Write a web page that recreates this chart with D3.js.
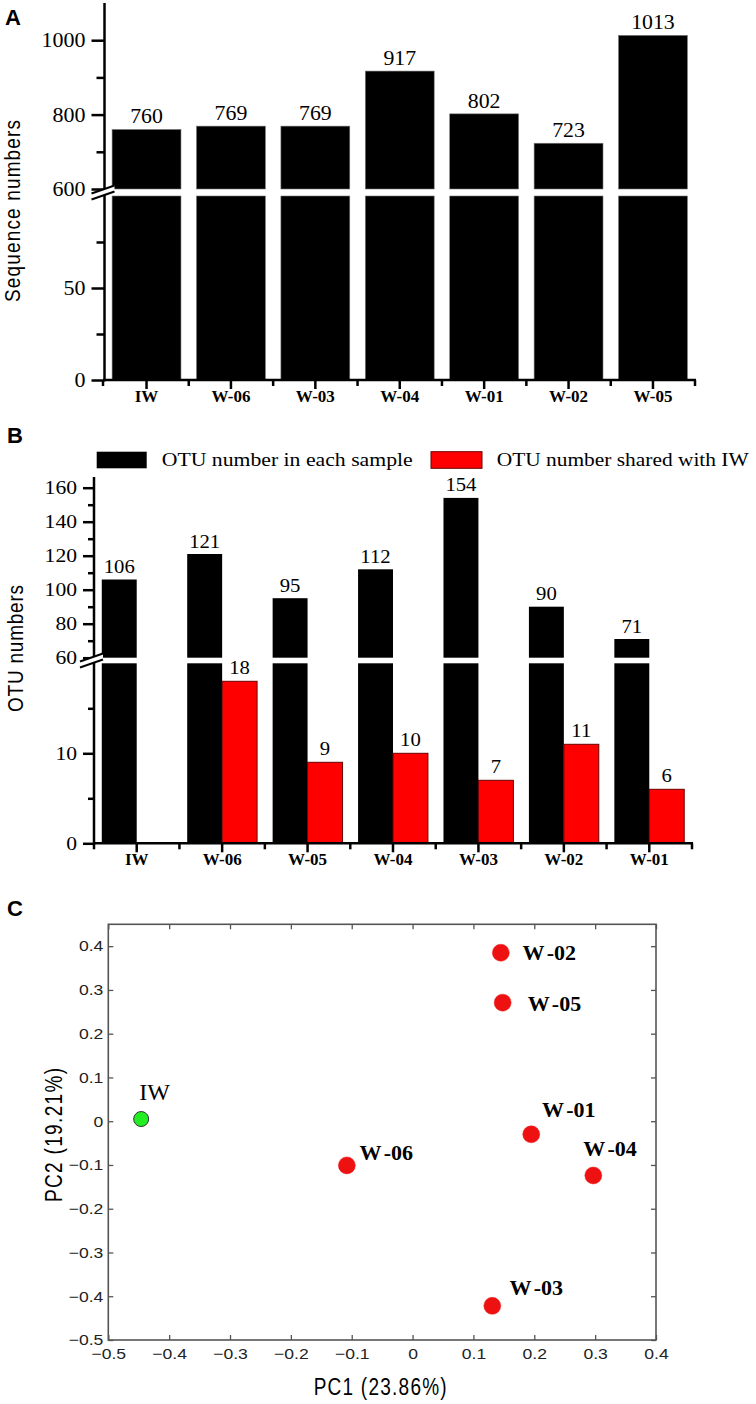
<!DOCTYPE html>
<html><head><meta charset="utf-8">
<script src="https://cdn.jsdelivr.net/npm/d3@7"></script>
<style>body{margin:0;background:#fff} svg{display:block}</style>
</head><body>
<script>
// ---------- Panel A data ----------
const samplesA = ['IW','W-06','W-03','W-04','W-01','W-02','W-05'];
const sequenceNumbers = [760,769,769,917,802,723,1013];
const ticksALower = [0,50];
const minorALower = [25,75];
const ticksAUpper = [600,800,1000];
const minorAUpper = [700,900];
const titleA = 'Sequence numbers';

// ---------- Panel B data ----------
const samplesB = ['IW','W-06','W-05','W-04','W-03','W-02','W-01'];
const otuEach = [106,121,95,112,154,90,71];
const otuShared = [null,18,9,10,7,11,6];
const legendB = ['OTU number in each sample','OTU number shared with IW'];
const ticksBLower = [0,10];
const minorBLower = [5,15];
const ticksBUpper = [60,80,100,120,140,160];
const minorBUpper = [70,90,110,130,150];
const titleB = 'OTU numbers';

// ---------- Panel C data ----------
const pcoaSamples = ['IW','W-06','W-02','W-05','W-01','W-04','W-03'];
const pc1 = [-0.446,-0.108,0.145,0.148,0.195,0.297,0.131];
const pc2 = [0.005,-0.101,0.385,0.271,-0.030,-0.124,-0.422];
const ticksCX = [-0.5,-0.4,-0.3,-0.2,-0.1,0,0.1,0.2,0.3,0.4];
const ticksCY = [-0.5,-0.4,-0.3,-0.2,-0.1,0,0.1,0.2,0.3,0.4];
const titleCX = 'PC1 (23.86%)';
const titleCY = 'PC2 (19.21%)';

// ---------- layout (label placement for panel C, dx/dy from point) ----------
const labelOffsetC = {'IW':[-2,-19],'W-06':[12.6,-5],'W-02':[21.7,7.7],'W-05':[25,8.4],'W-01':[10.7,-17.3],'W-04':[-10,-19],'W-03':[17.3,-10.7]};

const serif = '"Liberation Serif","Times New Roman",serif';
const sans = '"Liberation Sans",Arial,sans-serif';
const narrow = '"Liberation Sans Narrow","Liberation Sans",Arial,sans-serif';

function stretch(sel, k){
  sel.each(function(){
    const w = this.getComputedTextLength();
    if (w>0){ this.setAttribute('textLength', w*k); this.setAttribute('lengthAdjust','spacingAndGlyphs'); }
  });
}
function fitLen(sel, L, mode){
  sel.each(function(){
    const w = this.getComputedTextLength();
    this.setAttribute('textLength', L);
    this.setAttribute('lengthAdjust', mode || (w > L ? 'spacingAndGlyphs' : 'spacing'));
  });
}

const svg = d3.select('body').append('svg').attr('width',756).attr('height',1404);
svg.append('rect').attr('width',756).attr('height',1404).attr('fill','#fff');

// panel letters
[['A',5,25],['B',7,443],['C',7,916]].forEach(([t,x,y])=>{
  svg.append('text').attr('x',x).attr('y',y).text(t)
    .attr('font-family',sans).attr('font-weight','bold').attr('font-size',22).attr('fill','#000');
});

function breakMark(g, x, yc){
  g.append('path').attr('d',`M${x-13},${yc+1}L${x+10},${yc-7}L${x+10},${yc-1}L${x-13},${yc+7}Z`).attr('fill','#fff');
  g.append('line').attr('x1',x-13).attr('y1',yc+1).attr('x2',x+10).attr('y2',yc-7).attr('stroke','#000').attr('stroke-width',2);
  g.append('line').attr('x1',x-13).attr('y1',yc+7).attr('x2',x+10).attr('y2',yc-1).attr('stroke','#000').attr('stroke-width',2);
}

// rotated, vertically-enlarged sans title
function vTitle(g, txt, x, y, size, len, k){
  const t = g.append('text').attr('transform',`translate(${x},${y}) rotate(-90) scale(1,${k})`).attr('text-anchor','middle')
    .attr('font-family',narrow).attr('font-size',size).attr('fill','#000').text(txt);
  fitLen(t,len);
  return t;
}

// =================== PANEL A ===================
{
  const g = svg.append('g');
  const axX = 104.5, x0 = 103, x1 = 695, base = 380;
  const xA = d3.scaleBand().domain(samplesA).range([axX, x1]).paddingInner(0.184).paddingOuter(0.09);
  const yLo = d3.scaleLinear().domain([0,100]).range([base,196]);
  const yHi = d3.scaleLinear().domain([600,1100]).range([189,3]);
  const data = samplesA.map((s,i)=>({s, v:sequenceNumbers[i]}));

  g.selectAll('rect.lo').data(data).join('rect').attr('class','lo')
    .attr('x',d=>xA(d.s)).attr('width',xA.bandwidth())
    .attr('y',d=>yLo(Math.min(d.v,100))).attr('height',d=>yLo(0)-yLo(Math.min(d.v,100)))
    .attr('fill','#000').attr('stroke','#777').attr('stroke-width',0.6);
  g.selectAll('rect.hi').data(data.filter(d=>d.v>600)).join('rect').attr('class','hi')
    .attr('x',d=>xA(d.s)).attr('width',xA.bandwidth())
    .attr('y',d=>yHi(d.v)).attr('height',d=>yHi(600)-yHi(d.v))
    .attr('fill','#000').attr('stroke','#777').attr('stroke-width',0.6);
  const vl = g.selectAll('text.val').data(data).join('text').attr('class','val')
    .attr('x',d=>xA(d.s)+xA.bandwidth()/2).attr('y',d=>yHi(d.v)-6)
    .attr('text-anchor','middle').attr('font-family',serif).attr('font-size',20).attr('fill','#000')
    .text(d=>d.v);
  stretch(vl,1.09);

  // y axis
  const ax = g.append('g').attr('transform',`translate(${axX},0)`);
  ax.append('g').call(d3.axisLeft(yLo).tickValues(ticksALower).tickSize(13).tickPadding(6).tickFormat(d3.format('d')));
  ax.append('g').call(d3.axisLeft(yLo).tickValues(minorALower).tickSize(8).tickFormat(''));
  ax.append('g').call(d3.axisLeft(yHi).tickValues(ticksAUpper).tickSize(13).tickPadding(6).tickFormat(d3.format('d')));
  ax.append('g').call(d3.axisLeft(yHi).tickValues(minorAUpper).tickSize(8).tickFormat(''));
  ax.selectAll('.domain').remove();
  ax.selectAll('.tick line').attr('stroke','#000').attr('stroke-width',2.5);
  const tl = ax.selectAll('.tick text').attr('font-family',serif).attr('font-size',20).attr('fill','#000');
  stretch(tl,1.1);
  g.append('line').attr('x1',axX).attr('x2',axX).attr('y1',3).attr('y2',base+1.2).attr('stroke','#000').attr('stroke-width',2.5);
  breakMark(g, axX, 192.5);

  // x axis
  g.append('line').attr('x1',x0).attr('x2',x1+1).attr('y1',base).attr('y2',base).attr('stroke','#000').attr('stroke-width',2.5);
  const xb = g.append('g').attr('transform',`translate(0,${base})`)
    .call(d3.axisBottom(xA).tickSize(9).tickPadding(1));
  xb.select('.domain').remove();
  xb.selectAll('.tick line').attr('stroke','#000').attr('stroke-width',2.5);
  xb.selectAll('.tick text').attr('font-family',serif).attr('font-weight','bold').attr('font-size',17).attr('fill','#000');
  const gap = xA.step()*xA.paddingInner()/2;
  const bnd = [x0].concat(samplesA.slice(1).map(s=>xA(s)-gap)).concat([x1]);
  g.selectAll('line.bt').data(bnd).join('line').attr('class','bt')
    .attr('x1',d=>d).attr('x2',d=>d).attr('y1',base).attr('y2',base+6).attr('stroke','#000').attr('stroke-width',2.5);

  vTitle(g, titleA, 20, 211, 19, 182, 1.2);
}

// =================== PANEL B ===================
{
  const g = svg.append('g');
  const axX = 94, x1 = 692, base = 843.3;
  const xB = d3.scaleBand().domain(samplesB).range([axX, x1]).paddingInner(0.182).paddingOuter(0.091);
  const xSub = d3.scaleBand().domain(['each','shared']).range([0, xB.bandwidth()]);
  const yLo = d3.scaleLinear().domain([0,20]).range([base,663.3]);
  const yHi = d3.scaleLinear().domain([60,166]).range([657.7,477.5]);
  const data = samplesB.map((s,i)=>({s, v:otuEach[i], r:otuShared[i]}));

  g.selectAll('rect.lo').data(data).join('rect').attr('class','lo')
    .attr('x',d=>xB(d.s)+xSub('each')).attr('width',xSub.bandwidth())
    .attr('y',d=>yLo(Math.min(d.v,20))).attr('height',d=>yLo(0)-yLo(Math.min(d.v,20))).attr('fill','#000');
  g.selectAll('rect.hi').data(data.filter(d=>d.v>60)).join('rect').attr('class','hi')
    .attr('x',d=>xB(d.s)+xSub('each')).attr('width',xSub.bandwidth())
    .attr('y',d=>yHi(d.v)).attr('height',d=>yHi(60)-yHi(d.v)).attr('fill','#000');
  const sh = data.filter(d=>d.r!=null);
  g.selectAll('rect.sh').data(sh).join('rect').attr('class','sh')
    .attr('x',d=>xB(d.s)+xSub('shared')).attr('width',xSub.bandwidth())
    .attr('y',d=>yLo(d.r)).attr('height',d=>yLo(0)-yLo(d.r))
    .attr('fill','#ff0000').attr('stroke','#6a0000').attr('stroke-width',1);
  const v1 = g.selectAll('text.v1').data(data).join('text').attr('class','v1')
    .attr('x',d=>xB(d.s)+xSub('each')+xSub.bandwidth()/2).attr('y',d=>yHi(d.v)-6.5)
    .attr('text-anchor','middle').attr('font-family',serif).attr('font-size',18).attr('fill','#000').text(d=>d.v);
  const v2 = g.selectAll('text.v2').data(sh).join('text').attr('class','v2')
    .attr('x',d=>xB(d.s)+xSub('shared')+xSub.bandwidth()/2).attr('y',d=>yLo(d.r)-7)
    .attr('text-anchor','middle').attr('font-family',serif).attr('font-size',18).attr('fill','#000').text(d=>d.r);
  stretch(v1,1.15); stretch(v2,1.15);

  // y axis
  const ax = g.append('g').attr('transform',`translate(${axX},0)`);
  ax.append('g').call(d3.axisLeft(yLo).tickValues(ticksBLower).tickSize(11).tickPadding(6).tickFormat(d3.format('d')));
  ax.append('g').call(d3.axisLeft(yLo).tickValues(minorBLower).tickSize(6).tickFormat(''));
  ax.append('g').call(d3.axisLeft(yHi).tickValues(ticksBUpper).tickSize(11).tickPadding(6).tickFormat(d3.format('d')));
  ax.append('g').call(d3.axisLeft(yHi).tickValues(minorBUpper).tickSize(6).tickFormat(''));
  ax.selectAll('.domain').remove();
  ax.selectAll('.tick line').attr('stroke','#000').attr('stroke-width',2.5);
  const tl = ax.selectAll('.tick text').attr('font-family',serif).attr('font-size',18).attr('fill','#000');
  stretch(tl,1.2);
  g.append('line').attr('x1',axX).attr('x2',axX).attr('y1',477).attr('y2',base+1.2).attr('stroke','#000').attr('stroke-width',2.5);
  breakMark(g, axX-1, 660.5);

  // x axis
  g.append('line').attr('x1',axX-1).attr('x2',x1+1).attr('y1',base).attr('y2',base).attr('stroke','#000').attr('stroke-width',2.5);
  const xb = g.append('g').attr('transform',`translate(0,${base})`)
    .call(d3.axisBottom(xB).tickSize(9).tickPadding(1));
  xb.select('.domain').remove();
  xb.selectAll('.tick line').attr('stroke','#000').attr('stroke-width',2.5);
  xb.selectAll('.tick text').attr('font-family',serif).attr('font-weight','bold').attr('font-size',17).attr('fill','#000');
  const gap = xB.step()*xB.paddingInner()/2;
  const bnd = [axX].concat(samplesB.slice(1).map(s=>xB(s)-gap)).concat([x1]);
  g.selectAll('line.bt').data(bnd).join('line').attr('class','bt')
    .attr('x1',d=>d).attr('x2',d=>d).attr('y1',base).attr('y2',base+6).attr('stroke','#000').attr('stroke-width',2.5);

  // legend
  const lg = g.append('g');
  lg.append('rect').attr('x',96.7).attr('y',451.7).attr('width',50).attr('height',16.6).attr('fill','#000');
  const l1 = lg.append('text').attr('x',161.7).attr('y',466).attr('font-family',serif).attr('font-size',19.5).attr('fill','#000').text(legendB[0]);
  lg.append('rect').attr('x',431).attr('y',451.7).attr('width',51).attr('height',16.6).attr('fill','#ff0000').attr('stroke','#6a0000').attr('stroke-width',1);
  const l2 = lg.append('text').attr('x',496.7).attr('y',466).attr('font-family',serif).attr('font-size',19.5).attr('fill','#000').text(legendB[1]);
  fitLen(l1,251,'spacingAndGlyphs'); fitLen(l2,252,'spacingAndGlyphs');

  vTitle(g, titleB, 23, 648.5, 19, 127, 1.2);
}

// =================== PANEL C ===================
{
  const g = svg.append('g');
  const L = 108.3, R = 656, T = 924.3, B = 1340;
  const x = d3.scaleLinear().domain([-0.5,0.4]).range([L,R]);
  const y = d3.scaleLinear().domain([-0.5,0.45]).range([B,T]);
  const fmt = d => d===0 ? '0' : d3.format('.1f')(d);

  const axB = g.append('g').attr('transform',`translate(0,${B})`).call(d3.axisBottom(x).tickValues(ticksCX).tickSize(-5).tickPadding(8).tickFormat(fmt));
  const axL = g.append('g').attr('transform',`translate(${L},0)`).call(d3.axisLeft(y).tickValues(ticksCY).tickSize(-5).tickPadding(5).tickFormat(fmt));
  const axT = g.append('g').attr('transform',`translate(0,${T})`).call(d3.axisTop(x).tickValues(ticksCX).tickSize(-5).tickFormat(''));
  const axR = g.append('g').attr('transform',`translate(${R},0)`).call(d3.axisRight(y).tickValues(ticksCY).tickSize(-5).tickFormat(''));
  [axB,axL,axT,axR].forEach(a=>{ a.select('.domain').remove(); a.selectAll('.tick line').attr('stroke','#555').attr('stroke-width',1.3); });
  const tt = g.selectAll('.tick text').attr('font-family',sans).attr('font-size',15).attr('fill','#222');
  stretch(tt,1.17);
  g.append('rect').attr('x',L).attr('y',T).attr('width',R-L).attr('height',B-T).attr('fill','none').attr('stroke','#555').attr('stroke-width',1.6);

  const pts = pcoaSamples.map((s,i)=>({s, a:pc1[i], b:pc2[i]}));
  g.selectAll('circle.pt').data(pts).join('circle').attr('class','pt')
    .attr('cx',d=>x(d.a)).attr('cy',d=>y(d.b))
    .attr('r',d=>d.s==='IW'?7.5:8.5)
    .attr('fill',d=>d.s==='IW'?'#22ee22':'#ee1111')
    .attr('stroke',d=>d.s==='IW'?'#333':'#e22')
    .attr('stroke-width',d=>d.s==='IW'?1:0.5);

  pts.forEach(d=>{
    const [dx,dy] = labelOffsetC[d.s];
    const t = g.append('text').attr('x',x(d.a)+dx).attr('y',y(d.b)+dy)
      .attr('font-family',serif).attr('fill','#000');
    if (d.s==='IW'){
      t.attr('font-size',24).text(d.s);
    } else {
      t.attr('font-size',22).attr('font-weight','bold');
      t.append('tspan').text(d.s.slice(0,1));
      t.append('tspan').attr('dx',3).text(d.s.slice(1));
    }
  });

  const tx = g.append('text').attr('transform',`translate(${(L+R)/2-2},1395) scale(1,1.28)`).attr('text-anchor','middle')
    .attr('font-family',narrow).attr('font-size',19).attr('fill','#000').text(titleCX);
  fitLen(tx,133);
  vTitle(g, titleCY, 61.7, 1135, 19, 134, 1.28);
}
</script>
</body></html>
